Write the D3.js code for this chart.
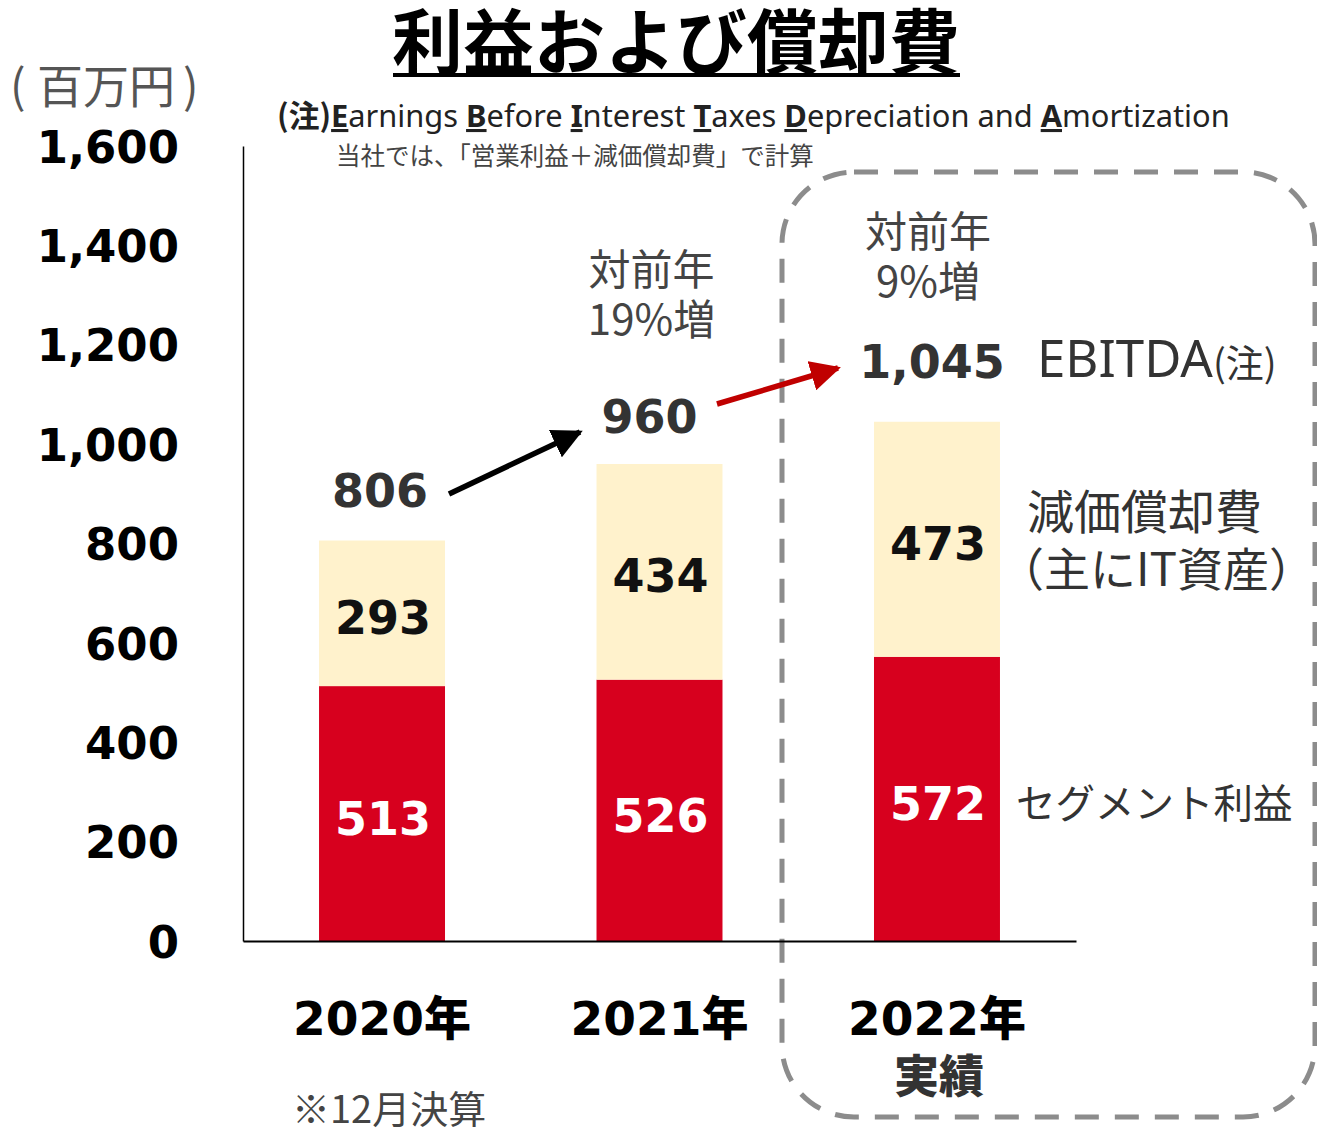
<!DOCTYPE html>
<html><head><meta charset="utf-8">
<script src="https://cdn.jsdelivr.net/npm/d3@7"></script>
<style>body{margin:0;background:#fff}svg{display:block}</style>
</head><body><svg id="c" width="1317" height="1129"></svg>
<script>
const years = ["2020年", "2021年", "2022年"];
const segmentProfit = [513, 526, 572];
const depreciation = [293, 434, 473];
const ebitda = [806, 960, 1045];
const yTicks = [0, 200, 400, 600, 800, 1000, 1200, 1400, 1600];
const growth = [null, "19%増", "9%増"];

const svg = d3.select("#c");
const JP = "'Noto Sans CJK JP', 'Noto Sans', sans-serif";
const NUM = "'DejaVu Sans', 'Noto Sans', sans-serif";
const RED = "#d7001e", CREAM = "#fff2cc";

const y = d3.scaleLinear().domain([0, 1600]).range([941, 146]);
const x = d3.scaleBand().domain(years).range([243, 1076]).paddingInner(0.546).paddingOuter(0.274);

// dashed box around 2022
svg.append("rect").attr("x", 782).attr("y", 172).attr("width", 533).attr("height", 945)
  .attr("rx", 72).attr("fill", "none").attr("stroke", "#8c8c8c").attr("stroke-width", 5)
  .attr("stroke-dasharray", "24 16");

// bars
const g = svg.append("g");
g.selectAll(".seg").data(years).join("rect")
  .attr("x", d => x(d)).attr("width", x.bandwidth())
  .attr("y", (d, i) => y(segmentProfit[i])).attr("height", (d, i) => y(0) - y(segmentProfit[i]))
  .attr("fill", RED);
g.selectAll(".dep").data(years).join("rect")
  .attr("x", d => x(d)).attr("width", x.bandwidth())
  .attr("y", (d, i) => y(segmentProfit[i] + depreciation[i]))
  .attr("height", (d, i) => y(segmentProfit[i]) - y(segmentProfit[i] + depreciation[i]))
  .attr("fill", CREAM);

// axes
const yAxis = d3.axisLeft(y).tickValues(yTicks).tickSize(0).tickPadding(64).tickFormat(d3.format(","));
const ya = svg.append("g").attr("transform", "translate(243,0)").call(yAxis);
ya.select(".domain").attr("stroke", "#000").attr("stroke-width", 1.5);
ya.selectAll("text").attr("font-family", NUM).attr("font-weight", "bold").attr("font-size", 45).attr("fill", "#000").attr("dy", "0.36em");
const xAxis = d3.axisBottom(x).tickSize(0).tickPadding(0).tickFormat(() => "");
const xa = svg.append("g").attr("transform", "translate(0,941)").call(xAxis);
xa.select(".domain").attr("stroke", "#000").attr("stroke-width", 2);

// year labels
svg.selectAll(".yl").data(years).join("text")
  .attr("x", d => x(d) + x.bandwidth() / 2).attr("y", 1035)
  .attr("text-anchor", "middle").attr("font-family", NUM).attr("font-weight", "bold")
  .attr("font-size", 47).attr("fill", "#000")
  .each(function(d){
    const t = d3.select(this);
    t.append("tspan").text(d.replace("年", ""));
    t.append("tspan").attr("font-family", JP).attr("font-weight", 900).text("年");
  });
svg.append("text").attr("x", x("2022年") + x.bandwidth() / 2 + 2).attr("y", 1093)
  .attr("text-anchor", "middle").attr("font-family", JP).attr("font-weight", 900)
  .attr("font-size", 45).attr("fill", "#333").text("実績");

// in-bar labels
svg.selectAll(".sl").data(years).join("text")
  .attr("x", d => x(d) + x.bandwidth() / 2 + 1)
  .attr("y", (d, i) => y(segmentProfit[i] / 2) + 5)
  .attr("dy", "0.36em").attr("text-anchor", "middle").attr("font-family", NUM)
  .attr("font-weight", "bold").attr("font-size", 46).attr("fill", "#fff")
  .text((d, i) => segmentProfit[i]);
svg.selectAll(".dl").data(years).join("text")
  .attr("x", d => x(d) + x.bandwidth() / 2 + 1)
  .attr("y", (d, i) => y(segmentProfit[i] + depreciation[i] / 2) + 4)
  .attr("dy", "0.36em").attr("text-anchor", "middle").attr("font-family", NUM)
  .attr("font-weight", "bold").attr("font-size", 46).attr("fill", "#111")
  .text((d, i) => depreciation[i]);

// totals
const totalPos = [[-2, 50], [-10, 48], [-5, 60]];
svg.selectAll(".tl").data(years).join("text")
  .attr("x", (d, i) => x(d) + x.bandwidth() / 2 + totalPos[i][0])
  .attr("y", (d, i) => y(ebitda[i]) - totalPos[i][1])
  .attr("dy", "0.36em").attr("text-anchor", "middle").attr("font-family", NUM)
  .attr("font-weight", "bold").attr("font-size", 46).attr("fill", "#333")
  .text((d, i) => d3.format(",")(ebitda[i]));

// growth notes
const gy = [0, 270, 232];
years.forEach((d, i) => {
  if (!growth[i]) return;
  const cx = x(d) + x.bandwidth() / 2 + (i === 1 ? -8 : -9);
  const t = svg.append("text").attr("text-anchor", "middle").attr("font-family", JP)
    .attr("font-size", 42).attr("fill", "#444");
  t.append("tspan").attr("x", cx).attr("y", gy[i] + 15).text("対前年");
  t.append("tspan").attr("x", cx).attr("y", gy[i] + 65).text(growth[i]);
});

// arrows
const defs = svg.append("defs");
function marker(id, color){
  defs.append("marker").attr("id", id).attr("viewBox", "0 0 10 10").attr("refX", 9).attr("refY", 5)
    .attr("markerWidth", 5.5).attr("markerHeight", 5.5).attr("markerUnits", "strokeWidth").attr("orient", "auto")
    .append("path").attr("d", "M0,0 L10,5 L0,10 Z").attr("fill", color);
}
marker("ab", "#000"); marker("ar", "#c00000");
svg.append("line").attr("x1", 449).attr("y1", 494).attr("x2", 580).attr("y2", 432)
  .attr("stroke", "#000").attr("stroke-width", 5.5).attr("marker-end", "url(#ab)");
svg.append("line").attr("x1", 717).attr("y1", 404).attr("x2", 838).attr("y2", 368)
  .attr("stroke", "#c00000").attr("stroke-width", 5.5).attr("marker-end", "url(#ar)");

// series labels on the right
const eb = svg.append("text").attr("x", 1037).attr("y", 377).attr("font-family", "'Noto Sans', sans-serif")
  .attr("font-size", 51).attr("fill", "#333");
eb.append("tspan").text("EBITDA");
eb.append("tspan").attr("font-size", 38).attr("font-family", JP).text("(注)");
svg.append("text").attr("x", 1027).attr("y", 529).attr("font-family", JP).attr("font-size", 47)
  .attr("fill", "#333").text("減価償却費");
svg.append("text").attr("x", 998).attr("y", 586).attr("font-family", JP).attr("font-size", 46)
  .attr("fill", "#333").text("（主にIT資産）");
svg.append("text").attr("x", 1016).attr("y", 818).attr("font-family", JP).attr("font-size", 39.5)
  .attr("fill", "#333").text("セグメント利益");

// title
svg.append("text").attr("x", 676).attr("y", 68).attr("text-anchor", "middle").attr("font-family", JP)
  .attr("font-weight", "bold").attr("font-size", 71).attr("fill", "#000")
  .text("利益および償却費");
svg.append("rect").attr("x", 393).attr("y", 73).attr("width", 567).attr("height", 4).attr("fill", "#000");

// unit
const unit = svg.append("text").attr("y", 103).attr("font-family", JP).attr("font-size", 46).attr("fill", "#555");
unit.append("tspan").attr("x", 10).text("(");
unit.append("tspan").attr("x", 37).text("百万円");
unit.append("tspan").attr("dx", 8).text(")");

// note
const note = svg.append("text").attr("x", 277).attr("y", 127).attr("font-family", "'Noto Sans', sans-serif")
  .attr("font-size", 30.8).attr("fill", "#222");
const parts = [["(注)", true], ["E", "u"], ["arnings ", false], ["B", "u"], ["efore ", false], ["I", "u"], ["nterest ", false],
  ["T", "u"], ["axes ", false], ["D", "u"], ["epreciation and ", false], ["A", "u"], ["mortization", false]];
parts.forEach(([s, st]) => {
  const ts = note.append("tspan").text(s).attr("xml:space", "preserve");
  if (st === true) ts.attr("font-weight", "bold").attr("font-family", JP);
  if (st === "u") ts.attr("font-weight", "bold").attr("text-decoration", "underline");
});
svg.append("text").attr("x", 336).attr("y", 165).attr("font-family", JP).attr("font-size", 24.5)
  .attr("fill", "#444").text("当社では、「営業利益＋減価償却費」で計算");

// footnote
svg.append("text").attr("x", 292).attr("y", 1123).attr("font-family", JP).attr("font-size", 38)
  .attr("fill", "#444").text("※12月決算");
</script></body></html>
